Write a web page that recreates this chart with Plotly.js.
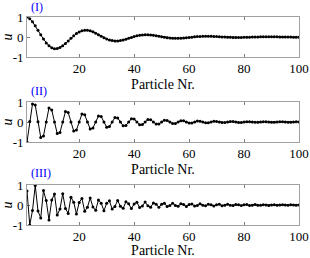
<!DOCTYPE html>
<html>
<head>
<meta charset="utf-8">
<script src="https://cdn.plot.ly/plotly-3.0.1.min.js"></script>
<style>html,body{margin:0;padding:0;background:#fff}#chart{width:310px;height:258px}</style>
</head>
<body>
<div id="chart"></div>
<script>
// Particle index (x axis)
const particles = Array.from({length: 100}, (_, i) => i + 1);

// Panel (I): slowly decaying long-wave displacement
const uPanelI = [
  1.000, 0.913, 0.762, 0.565, 0.341, 0.111, -0.106, -0.294, -0.441, -0.539,
  -0.585, -0.580, -0.530, -0.442, -0.328, -0.198, -0.064, 0.061, 0.170, 0.256,
  0.313, 0.339, 0.337, 0.307, 0.257, 0.190, 0.115, 0.037, -0.036, -0.099,
  -0.148, -0.181, -0.197, -0.195, -0.178, -0.149, -0.110, -0.067, -0.022, 0.021,
  0.057, 0.086, 0.105, 0.114, 0.113, 0.103, 0.086, 0.064, 0.039, 0.013,
  -0.012, -0.033, -0.050, -0.061, -0.066, -0.066, -0.060, -0.050, -0.037, -0.022,
  -0.007, 0.007, 0.019, 0.029, 0.035, 0.038, 0.038, 0.035, 0.029, 0.021,
  0.013, 0.004, -0.004, -0.011, -0.017, -0.021, -0.022, -0.022, -0.020, -0.017,
  -0.013, -0.008, -0.002, 0.002, 0.006, 0.010, 0.012, 0.013, 0.013, 0.012,
  0.010, 0.007, 0.004, 0.001, -0.001, -0.004, -0.006, -0.007, -0.007, -0.007
];

// Panel (II): medium-wave oscillation
const uPanelII = [
  -1.000, 0.020, 0.900, 0.850, 0.010, -0.770, -0.700, 0.000, 0.700, 0.600,
  0.000, -0.580, -0.520, 0.000, 0.520, 0.470, 0.000, -0.450, -0.400, 0.000,
  0.400, 0.360, 0.000, -0.350, -0.300, 0.000, 0.300, 0.270, 0.000, -0.260,
  -0.230, 0.000, 0.220, 0.200, 0.000, -0.190, -0.170, 0.000, 0.160, 0.150,
  0.000, -0.140, -0.130, 0.000, 0.120, 0.110, 0.000, -0.100, -0.095, 0.000,
  0.090, 0.080, 0.000, -0.075, -0.070, 0.000, 0.065, 0.060, 0.000, -0.055,
  -0.050, 0.000, 0.048, 0.044, 0.000, -0.040, -0.037, 0.000, 0.034, 0.031,
  0.000, -0.029, -0.027, 0.000, 0.025, 0.023, 0.000, -0.021, -0.020, 0.000,
  0.018, 0.017, 0.000, -0.015, -0.014, 0.000, 0.013, 0.012, 0.000, -0.011,
  -0.010, 0.000, 0.010, 0.009, 0.000, -0.008, -0.008, 0.000, 0.007, 0.006
];

// Panel (III): short-wave oscillation
const uPanelIII = [
  0.700, -1.000, -0.280, 0.980, -0.300, -0.650, 0.720, 0.220, -0.750, 0.250,
  0.550, -0.500, -0.200, 0.560, -0.170, -0.420, 0.390, 0.140, -0.445, 0.130,
  0.330, -0.315, -0.115, 0.355, -0.105, -0.263, 0.251, 0.092, -0.284, 0.084,
  0.209, -0.200, -0.073, 0.226, -0.067, -0.167, 0.160, 0.058, -0.181, 0.053,
  0.133, -0.128, -0.047, 0.144, -0.043, -0.107, 0.102, 0.037, -0.115, 0.034,
  0.085, -0.081, -0.030, 0.092, -0.027, -0.068, 0.065, 0.024, -0.073, 0.022,
  0.054, -0.052, -0.019, 0.059, -0.017, -0.043, 0.042, 0.015, -0.047, 0.014,
  0.035, -0.033, -0.012, 0.038, -0.011, -0.028, 0.027, 0.010, -0.030, 0.009,
  0.022, -0.021, -0.008, 0.024, -0.007, -0.018, 0.017, 0.006, -0.019, 0.006,
  0.014, -0.013, -0.005, 0.015, -0.005, -0.011, 0.011, 0.004, -0.012, 0.004
];

const panelLabels = ['(I)', '(II)', '(III)'];
const xTickVals = [20, 40, 60, 80, 100];
const yTickVals = [-1, 0, 1];
const yTickText = ['-1', '0', '1'];
const xTitle = 'Particle Nr.';
const yTitle = 'u';

const series = [uPanelI, uPanelII, uPanelIII];
const FONT = 'Liberation Serif';

const traces = series.map((ys, i) => ({
  x: particles,
  y: ys,
  type: 'scatter',
  mode: 'lines+markers',
  line: {color: '#000', width: 1},
  marker: {color: '#000', size: 3},
  xaxis: i === 0 ? 'x' : 'x' + (i + 1),
  yaxis: i === 0 ? 'y' : 'y' + (i + 1),
  showlegend: false,
  hoverinfo: 'skip'
}));

const domains = [[0.8077, 1.0], [0.399, 0.5913], [0.0, 0.1923]];

function xAxis(i) {
  return {
    domain: [0, 1],
    anchor: i === 0 ? 'y' : 'y' + (i + 1),
    range: [1, 100],
    tickvals: xTickVals,
    ticks: 'inside', ticklen: 3, tickcolor: '#262626', tickwidth: 0.6,
    showline: true, linecolor: '#8a8a8a', linewidth: 0.8, mirror: 'ticks',
    showgrid: false, zeroline: false,
    tickfont: {family: FONT, size: 13, color: '#000'},
    title: {text: xTitle, font: {family: FONT, size: 14, color: '#000'}, standoff: 3},
    automargin: false
  };
}
function yAxis(i) {
  return {
    domain: domains[i],
    anchor: i === 0 ? 'x' : 'x' + (i + 1),
    range: [-1, 1],
    tickvals: yTickVals,
    ticktext: yTickText,
    ticks: 'inside', ticklen: 3, tickcolor: '#262626', tickwidth: 0.6,
    showline: true, linecolor: '#8a8a8a', linewidth: 0.8, mirror: 'ticks',
    showgrid: false, zeroline: false,
    tickfont: {family: FONT, size: 13, color: '#000'},
    title: {text: yTitle, font: {family: FONT, size: 14, color: '#000', style: 'italic'}, standoff: 2},
    automargin: false
  };
}

const layout = {
  width: 310, height: 258,
  font: {family: FONT, size: 13, color: '#000'},
  margin: {l: 27, r: 11, t: 17, b: 33, pad: 0},
  paper_bgcolor: '#fff', plot_bgcolor: '#fff',
  showlegend: false,
  annotations: panelLabels.map((t, i) => ({
    text: t, xref: 'paper', yref: 'paper',
    x: 0.008, xanchor: 'left',
    y: [1.048, 0.6442, 0.2500][i], yanchor: 'middle',
    showarrow: false,
    font: {family: FONT, size: 12, color: '#0000ff'}
  }))
};
[0, 1, 2].forEach(i => {
  layout[i === 0 ? 'xaxis' : 'xaxis' + (i + 1)] = xAxis(i);
  layout[i === 0 ? 'yaxis' : 'yaxis' + (i + 1)] = yAxis(i);
});

Plotly.newPlot('chart', traces, layout, {staticPlot: true, displayModeBar: false});
</script>
</body>
</html>
